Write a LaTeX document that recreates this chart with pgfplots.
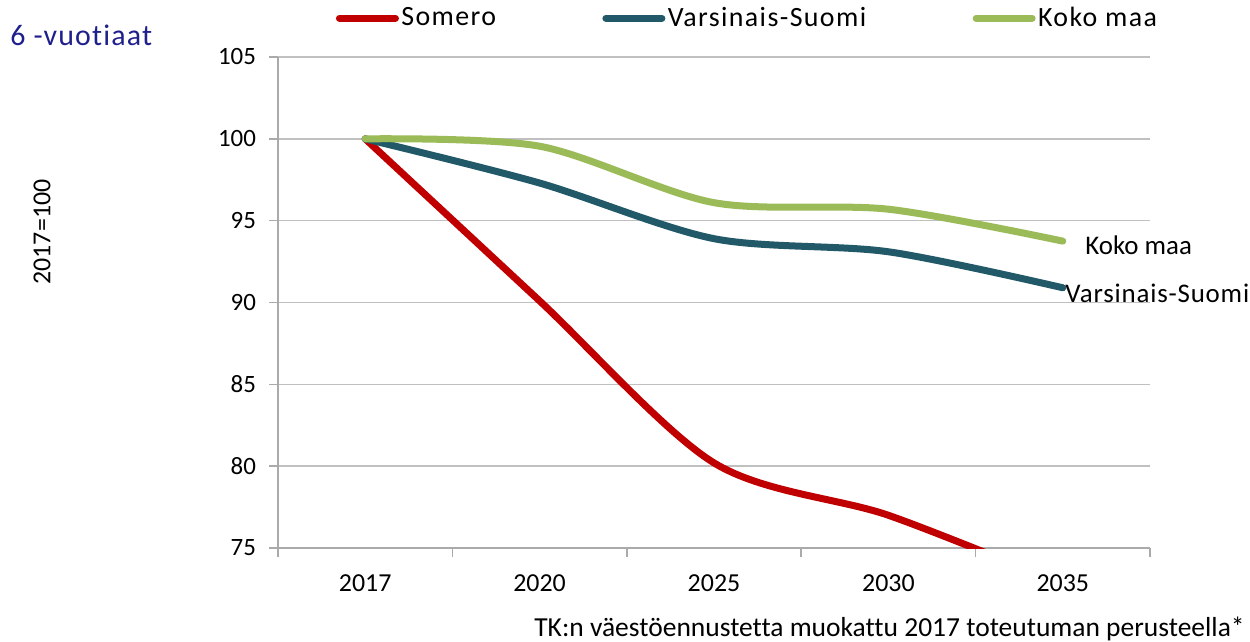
\documentclass[border=0pt]{standalone}
\usepackage{fontspec}
\setmainfont{Carlito}[Ligatures=NoCommon]
\usepackage{graphicx}
\usepackage{pgfplots}
\pgfplotsset{compat=1.18}
\definecolor{somero}{RGB}{192,0,0}
\definecolor{vs}{RGB}{33,89,104}
\definecolor{koko}{RGB}{155,187,89}
\definecolor{gridc}{RGB}{192,192,192}
\definecolor{axc}{RGB}{170,170,170}
\definecolor{titlec}{RGB}{32,32,140}
\begin{document}
\begin{tikzpicture}
\useasboundingbox (0bp,0bp) rectangle (625bp,-321bp);
\begin{axis}[
  at={(139bp,-274bp)}, anchor=south west,
  scale only axis, width=436bp, height=245.5bp,
  xmin=-0.5, xmax=4.5, ymin=75, ymax=105,
  axis x line*=bottom, axis y line*=left,
  axis line style={draw=axc, line width=0.75bp},
  ytick={75,80,...,105},
  ymajorgrids, major grid style={draw=gridc, line width=0.75bp},
  tick align=outside, major tick length=4.5bp,
  tick style={draw=axc, line width=0.75bp},
  xtick={-0.5,0.5,...,4.5}, xticklabels={},
  extra x ticks={0,1,2,3,4},
  extra x tick labels={2017,2020,2025,2030,2035},
  extra x tick style={major tick length=0pt, xticklabel style={yshift=-10bp}},
  /pgf/number format/assume math mode=true,
  ticklabel style={font=\fontsize{12.5}{14}\selectfont},
  xticklabel style={font=\fontsize{13}{15}\selectfont},
  yticklabel style={xshift=-3bp},
  legend columns=3,
  legend style={draw=none, fill=none, inner sep=0pt, anchor=west,
    at={(axis description cs:0.066,1.079)},
    font=\fontsize{14}{16}\selectfont\addfontfeatures{LetterSpace=5},
    /tikz/every even column/.append style={column sep=52bp},
    nodes={inner sep=1.2bp}},
  legend image code/.code={\draw[#1, line width=3.5bp, line cap=round] (0bp,0bp) -- (28bp,0bp);},
]
\addplot[somero, line width=3.5bp, smooth, tension=0.5, line cap=round] coordinates {
 (0,100) (1,90.1) (2,80.2) (3,77.0) (4,72.8)};
\addlegendentry{Somero}
\addplot[vs, line width=3.5bp, smooth, tension=0.5, line cap=round] coordinates {
 (0,100) (1,97.3) (2,93.9) (3,93.1) (4,90.9)};
\addlegendentry{Varsinais-Suomi}
\addplot[koko, line width=3.5bp, smooth, tension=0.5, line cap=round] coordinates {
 (0,100) (1,99.55) (2,96.1) (3,95.7) (4,93.75)};
\addlegendentry{Koko maa}
\end{axis}
\node[anchor=west, inner sep=0pt, text=titlec, font=\fontsize{15}{17}\selectfont\addfontfeatures{LetterSpace=4}] at (5bp,-17.5bp) {6 -vuotiaat};
\node[rotate=90, inner sep=0pt, font=\fontsize{13}{15}\selectfont] at (21bp,-116bp) {2017=100};
\node[anchor=west, inner sep=0pt, font=\fontsize{13.5}{15}\selectfont] at (542.5bp,-122.5bp) {Koko maa};
\node[anchor=west, inner sep=0pt, font=\fontsize{13.5}{15}\selectfont\addfontfeatures{LetterSpace=3}] at (532.5bp,-146.5bp) {Varsinais-Suomi};
\node[anchor=east, inner sep=0pt, font=\fontsize{13.8}{16}\selectfont] at (622.5bp,-314.5bp) {TK:n väestöennustetta muokattu 2017 toteutuman perusteella*};
\end{tikzpicture}
\end{document}
